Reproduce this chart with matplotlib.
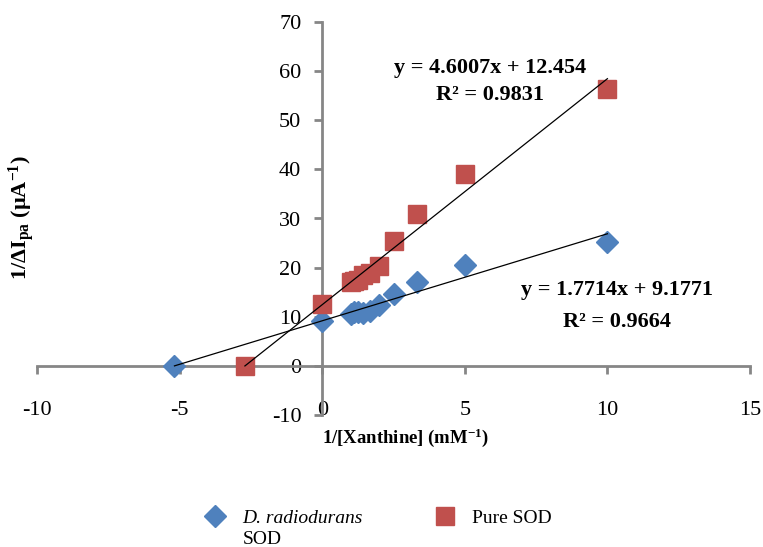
import numpy as np
import matplotlib
matplotlib.use("Agg")
import matplotlib.pyplot as plt

# Lineweaver-Burk style data
DR_X = [-5.18, 0.0, 1.0, 1.11, 1.25, 1.43, 1.67, 2.0, 2.5, 3.33, 5.0, 10.0]
DR_Y = [0.0, 9.2, 10.6, 10.9, 11.0, 10.8, 11.2, 12.4, 14.6, 17.0, 20.5, 25.3]
PURE_X = [-2.71, 0.0, 1.0, 1.11, 1.25, 1.43, 1.67, 2.0, 2.5, 3.33, 5.0, 10.0]
PURE_Y = [0.0, 12.5, 17.0, 17.2, 17.5, 18.6, 19.0, 20.4, 25.4, 31.0, 39.0, 56.3]

# trendline coefficients as printed on the chart
DR_FIT = (1.7714, 9.1771, 0.9664)
PURE_FIT = (4.6007, 12.454, 0.9831)

X_TICKS = [-10, -5, 0, 5, 10, 15]
Y_TICKS = [-10, 0, 10, 20, 30, 40, 50, 60, 70]

BLUE = "#4F81BD"
RED = "#C0504D"
SPINE = "#868686"

plt.rcParams["font.family"] = ["Liberation Serif", "DejaVu Serif"]
plt.rcParams["axes.unicode_minus"] = False
plt.rcParams["mathtext.fontset"] = "custom"
plt.rcParams["mathtext.rm"] = "Liberation Serif:bold"
plt.rcParams["mathtext.it"] = "Liberation Serif:bold:italic"
plt.rcParams["mathtext.bf"] = "Liberation Serif:bold"

W, H = 763, 547
fig = plt.figure(figsize=(W / 100, H / 100), dpi=100)
ax = fig.add_axes([37 / W, 1 - 415 / H, (750 - 37) / W, (415 - 22) / H])

ax.set_xlim(-10, 15)
ax.set_ylim(-10, 70)

ax.plot(DR_X, DR_Y, linestyle="none", marker="D", markersize=11,
        color=BLUE, label="D. radiodurans", zorder=3)
ax.plot(PURE_X, PURE_Y, linestyle="none", marker="s", markersize=12.5,
        color=RED, label="Pure SOD", zorder=3)

# linear trendlines over each series' x range
for xs, fit in [(DR_X, DR_FIT), (PURE_X, PURE_FIT)]:
    xr = np.array([min(xs), max(xs)])
    ax.plot(xr, fit[0] * xr + fit[1], color="black", linewidth=0.9, zorder=4)

ax.text(5.87, 60.7, "y = %.4fx + %.3f" % (PURE_FIT[0], PURE_FIT[1]),
        ha="center", va="center", fontsize=16, fontweight="bold")
ax.text(5.87, 55.2, "R² = %.4f" % PURE_FIT[2],
        ha="center", va="center", fontsize=16, fontweight="bold")
ax.text(10.33, 15.5, "y = %.4fx + %.4f" % (DR_FIT[0], DR_FIT[1]),
        ha="center", va="center", fontsize=16, fontweight="bold")
ax.text(10.33, 9.0, "R² = %.4f" % DR_FIT[2],
        ha="center", va="center", fontsize=16, fontweight="bold")

# axes cross at the origin, Excel style
ax.spines["left"].set_position(("data", 0))
ax.spines["bottom"].set_position(("data", 0))
ax.spines["top"].set_visible(False)
ax.spines["right"].set_visible(False)
for s in ["left", "bottom"]:
    ax.spines[s].set_color(SPINE)
    ax.spines[s].set_linewidth(2)

ax.set_xticks(X_TICKS)
ax.set_yticks(Y_TICKS)
ax.tick_params(axis="x", direction="out", length=6, width=2, color=SPINE,
               pad=19, labelsize=16)
ax.tick_params(axis="y", direction="out", length=6, width=2, color=SPINE,
               pad=9, labelsize=16)

fig.text(406 / W, 1 - 438 / H, r"1/[Xanthine] (mM$^{-1}$)", ha="center",
         va="center", fontsize=13.5, fontweight="bold")
fig.text(22 / W, 1 - 218 / H, r"1/ΔI$_{\mathrm{pa}}$ (µA$^{-1}$)",
         ha="center", va="center", rotation=90, fontsize=16,
         fontweight="bold")

leg = ax.legend(ncol=2, loc="center left", frameon=False, fontsize=14,
                bbox_to_anchor=(205 / W, 1 - 518 / H),
                bbox_transform=fig.transFigure, handlelength=1.0,
                handletextpad=0.9, columnspacing=3.75, borderpad=0,
                borderaxespad=0)
leg.get_texts()[0].set_fontstyle("italic")
fig.text(243 / W, 1 - 531 / H, "SOD", ha="left", va="top", fontsize=14)

fig.savefig("out.png", dpi=100)
